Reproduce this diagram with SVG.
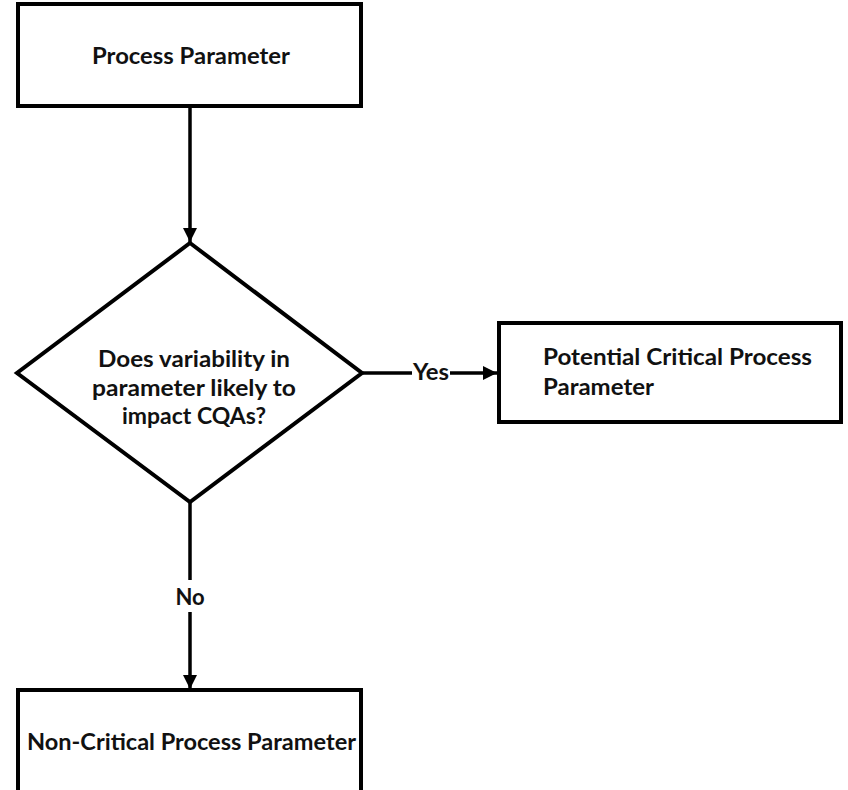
<svg xmlns="http://www.w3.org/2000/svg" width="848" height="790" viewBox="0 0 848 790">
<defs>
<marker id="arr" markerWidth="14" markerHeight="14" refX="14" refY="7" orient="auto" markerUnits="userSpaceOnUse" viewBox="0 0 14 14">
<path d="M0,0 L14,7 L0,14 z" fill="#000"/>
</marker>
<style>
.box{fill:#fff;stroke:#000;stroke-width:4}
.t{font-family:Lato,"Open Sans","Liberation Sans",sans-serif;font-weight:bold;font-size:22px;fill:#111}
.c{stroke:#000;stroke-width:3.5;fill:none}
</style>
</defs>
<rect width="848" height="790" fill="#fff"/>
<g id="connectors">
<line class="c" x1="190" y1="107" x2="190" y2="242" marker-end="url(#arr)"/>
<line class="c" x1="363" y1="373" x2="412" y2="373"/>
<line class="c" x1="450" y1="373" x2="497" y2="373" marker-end="url(#arr)"/>
<line class="c" x1="190" y1="502" x2="190" y2="580"/>
<line class="c" x1="190" y1="612" x2="190" y2="689" marker-end="url(#arr)"/>
<text class="t" x="431" y="380" text-anchor="middle" textLength="36" lengthAdjust="spacingAndGlyphs">Yes</text>
<text class="t" x="190" y="605" text-anchor="middle">No</text>
</g>
<g id="process-parameter">
<rect class="box" x="18" y="4" width="343" height="102"/>
<text class="t" x="191" y="64" text-anchor="middle" textLength="198" lengthAdjust="spacingAndGlyphs">Process Parameter</text>
</g>
<g id="decision">
<polygon class="box" points="190,243 362,373 190,502 17,373"/>
<text class="t" x="194" y="367" text-anchor="middle" textLength="192" lengthAdjust="spacingAndGlyphs">Does variability in</text>
<text class="t" x="194" y="396" text-anchor="middle" textLength="204" lengthAdjust="spacingAndGlyphs">parameter likely to</text>
<text class="t" x="194" y="424" text-anchor="middle" textLength="144" lengthAdjust="spacingAndGlyphs">impact CQAs?</text>
</g>
<g id="potential-cpp">
<rect class="box" x="499" y="323" width="342" height="99"/>
<text class="t" x="543" y="365" textLength="269" lengthAdjust="spacingAndGlyphs">Potential Critical Process</text>
<text class="t" x="543" y="395" textLength="111" lengthAdjust="spacingAndGlyphs">Parameter</text>
</g>
<g id="non-critical">
<rect class="box" x="18" y="690" width="343" height="110"/>
<text class="t" x="27" y="750" textLength="329" lengthAdjust="spacingAndGlyphs">Non-Critical Process Parameter</text>
</g>
</svg>
